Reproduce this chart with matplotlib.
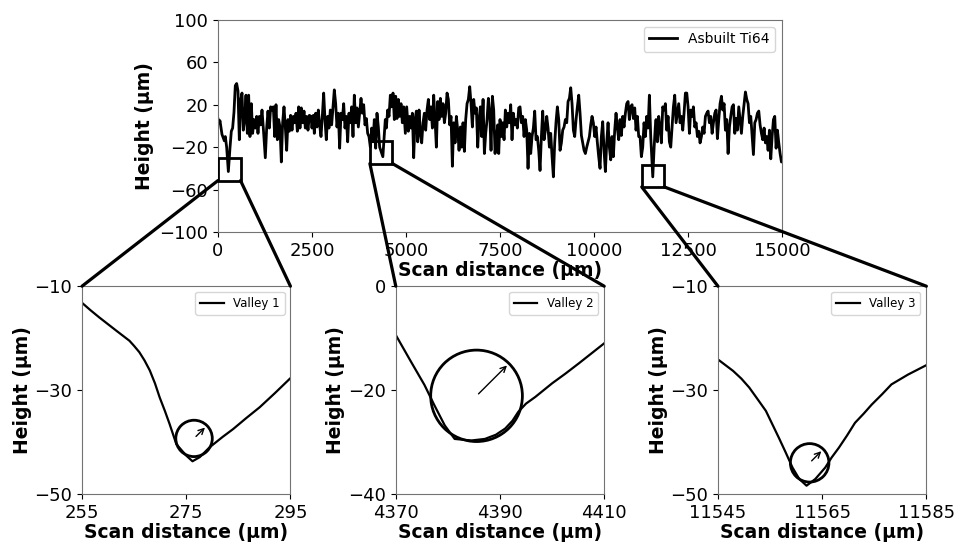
import matplotlib.pyplot as plt
from matplotlib.patches import Rectangle, Circle, ConnectionPatch

# full surface profile (peaks / troughs)
scan_x = [0, 36, 53, 107, 169, 195, 231, 276, 319, 355, 390, 426, 461, 497, 532, 568, 603, 639,
          674, 710, 745, 781, 816, 851, 887, 922, 958, 993, 1029, 1064, 1100, 1135, 1171, 1206,
          1259, 1295, 1330, 1366, 1401, 1437, 1472, 1508, 1543, 1579, 1614, 1649, 1685, 1720,
          1756, 1791, 1827, 1862, 1898, 1933, 1969, 2004, 2040, 2075, 2111, 2146, 2181, 2217,
          2252, 2288, 2323, 2359, 2394, 2430, 2474, 2500, 2536, 2562, 2598, 2633, 2669, 2704,
          2740, 2775, 2811, 2846, 2881, 2917, 2952, 2988, 3023, 3059, 3094, 3130, 3165, 3201,
          3236, 3272, 3307, 3343, 3378, 3414, 3449, 3484, 3520, 3555, 3591, 3626, 3662, 3697,
          3733, 3768, 3804, 3839, 3875, 3910, 3946, 3981, 4016, 4052, 4087, 4123, 4158, 4194,
          4229, 4265, 4300, 4385, 4420, 4450, 4478, 4513, 4549, 4584, 4619, 4655, 4690, 4726,
          4761, 4797, 4832, 4868, 4903, 4939, 4983, 5019, 5063, 5099, 5134, 5170, 5205, 5241,
          5276, 5312, 5347, 5382, 5418, 5453, 5489, 5524, 5560, 5595, 5631, 5666, 5702, 5737,
          5773, 5808, 5844, 5879, 5915, 5950, 5985, 6021, 6056, 6092, 6127, 6163, 6198, 6234,
          6269, 6305, 6340, 6376, 6411, 6447, 6482, 6517, 6553, 6588, 6624, 6659, 6695, 6730,
          6766, 6801, 6837, 6872, 6908, 6943, 6979, 7014, 7050, 7085, 7120, 7156, 7191, 7227,
          7262, 7298, 7333, 7369, 7404, 7440, 7466, 7501, 7537, 7572, 7608, 7643, 7679, 7714,
          7749, 7785, 7820, 7856, 7891, 7927, 7962, 7998, 8033, 8069, 8104, 8140, 8175, 8211,
          8246, 8281, 8317, 8352, 8388, 8423, 8459, 8494, 8530, 8565, 8601, 8636, 8672, 8707,
          8743, 8778, 8814, 8849, 8885, 8920, 8955, 8991, 9026, 9062, 9097, 9133, 9168, 9204,
          9239, 9275, 9310, 9346, 9381, 9416, 9452, 9487, 9523, 9558, 9594, 9629, 9665, 9700,
          9736, 9771, 9807, 9842, 9878, 9913, 9948, 9983, 10019, 10054, 10090, 10125, 10161,
          10196, 10232, 10267, 10303, 10338, 10374, 10409, 10445, 10480, 10515, 10551, 10586,
          10622, 10657, 10693, 10728, 10764, 10799, 10835, 10870, 10906, 10941, 10977, 11012,
          11047, 11083, 11118, 11154, 11189, 11225, 11260, 11296, 11331, 11367, 11402, 11438,
          11473, 11509, 11563, 11600, 11630, 11650, 11686, 11721, 11757, 11792, 11828, 11863,
          11899, 11934, 11970, 12005, 12041, 12076, 12112, 12147, 12183, 12218, 12253, 12289,
          12324, 12360, 12395, 12431, 12467, 12502, 12538, 12573, 12609, 12644, 12680, 12715,
          12750, 12786, 12821, 12857, 12892, 12928, 12963, 12999, 13034, 13070, 13105, 13141,
          13176, 13212, 13247, 13282, 13318, 13353, 13389, 13424, 13460, 13495, 13531, 13566,
          13602, 13637, 13673, 13708, 13744, 13779, 13814, 13850, 13885, 13921, 13956, 13992,
          14027, 14063, 14098, 14134, 14169, 14205, 14240, 14276, 14311, 14346, 14382, 14417,
          14453, 14488, 14524, 14559, 14595, 14630, 14666, 14701, 14737, 14772, 14807, 14843,
          14878, 14914, 14949, 14985, 15000]
height = [7, 3, 5, -8, -14, -10, -20, -43, -21, -5, -2, 13, 38, 40, 33, -13, 24, 31,
          -4, 6, 29, -7, 29, -10, 21, -7, 6, -2, 9, -7, 9, 1, 15, -2,
          -30, -2, 14, -2, 18, 15, 18, -10, 20, -13, 6, -1, -34, 3,
          18, -1, -23, 6, -5, 10, -4, 9, 3, 12, -5, 18, -2, 17,
          3, 14, -2, 9, -4, 10, 9, -2, 10, -7, 12, -1, 15, 1,
          -10, 9, 31, 6, -13, 9, -2, 15, 1, 18, 34, 21, -1, 12,
          -21, 12, 6, 21, -2, 9, -15, 12, 3, 18, -10, 29, 3, 17,
          -1, 12, 26, 12, 20, 1, 7, -7, -10, -20, -2, -15, 6, -21,
          12, -1, -20, -29, -10, 6, -2, 15, 9, 29, 18, 31, 6, 28,
          7, 25, 9, 21, 3, 18, -7, 18, -5, 9, -2, 12, -30, 6,
          14, -15, 15, -7, -16, 3, 12, -4, 15, 25, 6, 18, -2, 29,
          6, -20, 23, 6, 26, 9, 21, 3, 12, 31, 25, 1, 9, -38,
          3, -16, 9, -4, -23, -1, -20, 3, -24, 6, 21, 25, 37, 21,
          -1, 25, 12, 17, -20, 6, 18, -10, 25, -26, -7, 6, 26, 12,
          -23, 28, 15, -26, -12, 1, -26, 6, -10, 3, -13, 15, -1, 12,
          3, 20, -13, 12, 1, 6, -2, 17, 18, 3, 9, -10, 6, -4,
          -40, -7, -26, -10, -2, 14, -13, -10, -23, -42, -10, 14, -13, -4,
          9, -2, -20, -7, -29, -48, -16, 4, 18, 6, -23, -16, -4, -1,
          6, 3, 23, 26, 36, 21, -4, -10, 6, 18, 29, 12, -9, -16,
          -23, -26, -20, -15, -10, 1, 9, 3, -10, -1, -16, -29, -40,
          -10, 4, -23, -43, -16, 3, -20, -32, -10, -29, -4, 12,
          -2, -13, 6, -9, 9, -1, 12, 21, 23, 6, 18, 20,
          7, 17, -4, 9, -10, -10, -29, -20, 3, -10, 9, -2,
          29, -10, -48, -20, -1, 6, -15, 9, -2, -16, 18, 15,
          21, -4, 9, -15, -20, -1, 18, 29, 3, 12, 21, 3,
          9, -4, 12, 31, 31, 18, -7, 15, 9, 18, -1, 3,
          -10, -5, -16, -10, -1, -7, 9, 12, 14, 3, 9, -7,
          3, 12, 15, -12, 6, 21, 28, 15, 21, -4, 6, -26,
          -1, 9, 18, 20, -7, 7, -4, 18, 6, -7, 9, 21,
          32, 25, 21, 3, 9, -10, -27, 3, 6, 12, 14, 1,
          -7, -13, -2, -16, -10, -23, -4, -31, -10, 6, 9, -21,
          -4, -16, -26, -34, -30]

# zoomed valleys
v1_x = [255, 256.6, 258.3, 261.5, 262.8, 264.1, 265, 266, 267, 268, 269, 269.9, 270.9, 271.8, 273.1,
        275, 276.2, 277.6, 279.5, 282, 284, 286.5, 289.1, 292, 295]
v1_y = [-13.2, -14.6, -16.0, -18.5, -19.5, -20.5, -21.5, -22.7, -24.3, -26.2, -28.7, -31.4, -34.0,
        -36.5, -40.4, -42.6, -43.7, -42.9, -41.0, -39.0, -37.5, -35.4, -33.3, -30.6, -27.7]
v2_x = [4370, 4372.9, 4375.5, 4377.4, 4379.4, 4381.3, 4384.5, 4387.1, 4389.2, 4391, 4392.4, 4393.5,
        4395, 4396.8, 4400, 4402.6, 4405.2, 4407.6, 4410]
v2_y = [-9.4, -14.5, -19, -22.9, -26.8, -29.4, -29.7, -29.4, -28.6, -27.4, -25.9, -24.2, -22.6, -21.3,
        -18.7, -16.8, -14.8, -12.9, -11.0]
v3_x = [11545, 11547.9, 11549.5, 11551, 11552.5, 11554.2, 11556.7, 11558, 11559.3, 11560.6, 11562,
        11563.7, 11565.6, 11566.8, 11568.2, 11569.8, 11571.3, 11573, 11574.5, 11576.5, 11578.3,
        11581.5, 11585]
v3_y = [-24.1, -26.3, -27.8, -29.5, -31.6, -34, -39.2, -42.0, -44.9, -47.1, -48.4, -47.1, -44.9,
        -43.0, -41.1, -38.7, -36.3, -34.5, -32.8, -30.8, -28.9, -27.0, -25.2]

valley_labels = ['Valley 1', 'Valley 2', 'Valley 3']
valley_xlim = [(255, 295), (4370, 4410), (11545, 11585)]
valley_ylim = [(-50, -10), (-40, 0), (-50, -10)]
valley_xticks = [[255, 275, 295], [4370, 4390, 4410], [11545, 11565, 11585]]
valley_yticks = [[-50, -30, -10], [-40, -20, 0], [-50, -30, -10]]
circle_c = [(276.5, -39.3), (4385.5, -21.1), (11562.6, -44.0)]
circle_r = [3.5, 8.8, 3.7]
box_c = [(300, -41), (4340, -25), (11570, -47)]
box_w, box_h = 600, 21

plt.rcParams['axes.edgecolor'] = '0.45'
fig = plt.figure(figsize=(9.56, 5.44), dpi=100)

ax = fig.add_axes([0.228, 0.5735, 0.590, 0.39])
ax.plot(scan_x, height, color='black', lw=2, label='Asbuilt Ti64')
ax.set_xlim(0, 15000)
ax.set_ylim(-100, 100)
ax.set_xticks([0, 2500, 5000, 7500, 10000, 12500, 15000])
ax.set_yticks([-100, -60, -20, 20, 60, 100])
ax.tick_params(labelsize=13)
ax.set_xlabel('Scan distance (µm)', fontsize=13.5, fontweight='bold', labelpad=1)
ax.set_ylabel('Height (µm)', fontsize=13.5, fontweight='bold')
ax.legend(loc='upper right', fontsize=10)

lefts = [0.0858, 0.414, 0.751]
vx = [v1_x, v2_x, v3_x]
vy = [v1_y, v2_y, v3_y]
for i in range(3):
    a = fig.add_axes([lefts[i], 0.0919, 0.218, 0.382])
    a.plot(vx[i], vy[i], color='black', lw=1.6, label=valley_labels[i])
    a.set_xlim(*valley_xlim[i])
    a.set_ylim(*valley_ylim[i])
    a.set_xticks(valley_xticks[i])
    a.set_yticks(valley_yticks[i])
    a.tick_params(labelsize=13)
    a.set_xlabel('Scan distance (µm)', fontsize=13.5, fontweight='bold', labelpad=1)
    a.set_ylabel('Height (µm)', fontsize=13.5, fontweight='bold', labelpad=2)
    a.legend(loc='upper right', fontsize=8.5)

    cx, cy = circle_c[i]
    r = circle_r[i]
    a.add_patch(Circle((cx, cy), r, fill=False, color='black', lw=2))
    a.annotate('', xy=(cx + r * 0.707, cy + r * 0.707), xytext=(cx, cy),
               arrowprops=dict(arrowstyle='->', color='black', lw=1))

    bx, by = box_c[i]
    ax.add_patch(Rectangle((bx - box_w / 2, by - box_h / 2), box_w, box_h,
                           fill=False, color='black', lw=2, zorder=5))
    for xa, xb in [(bx - box_w / 2, 0), (bx + box_w / 2, 1)]:
        con = ConnectionPatch(xyA=(xa, by - box_h / 2), coordsA=ax.transData,
                              xyB=(xb, 1), coordsB=a.transAxes,
                              color='black', lw=2.3, zorder=10)
        fig.add_artist(con)

fig.savefig('out.png', dpi=100)
